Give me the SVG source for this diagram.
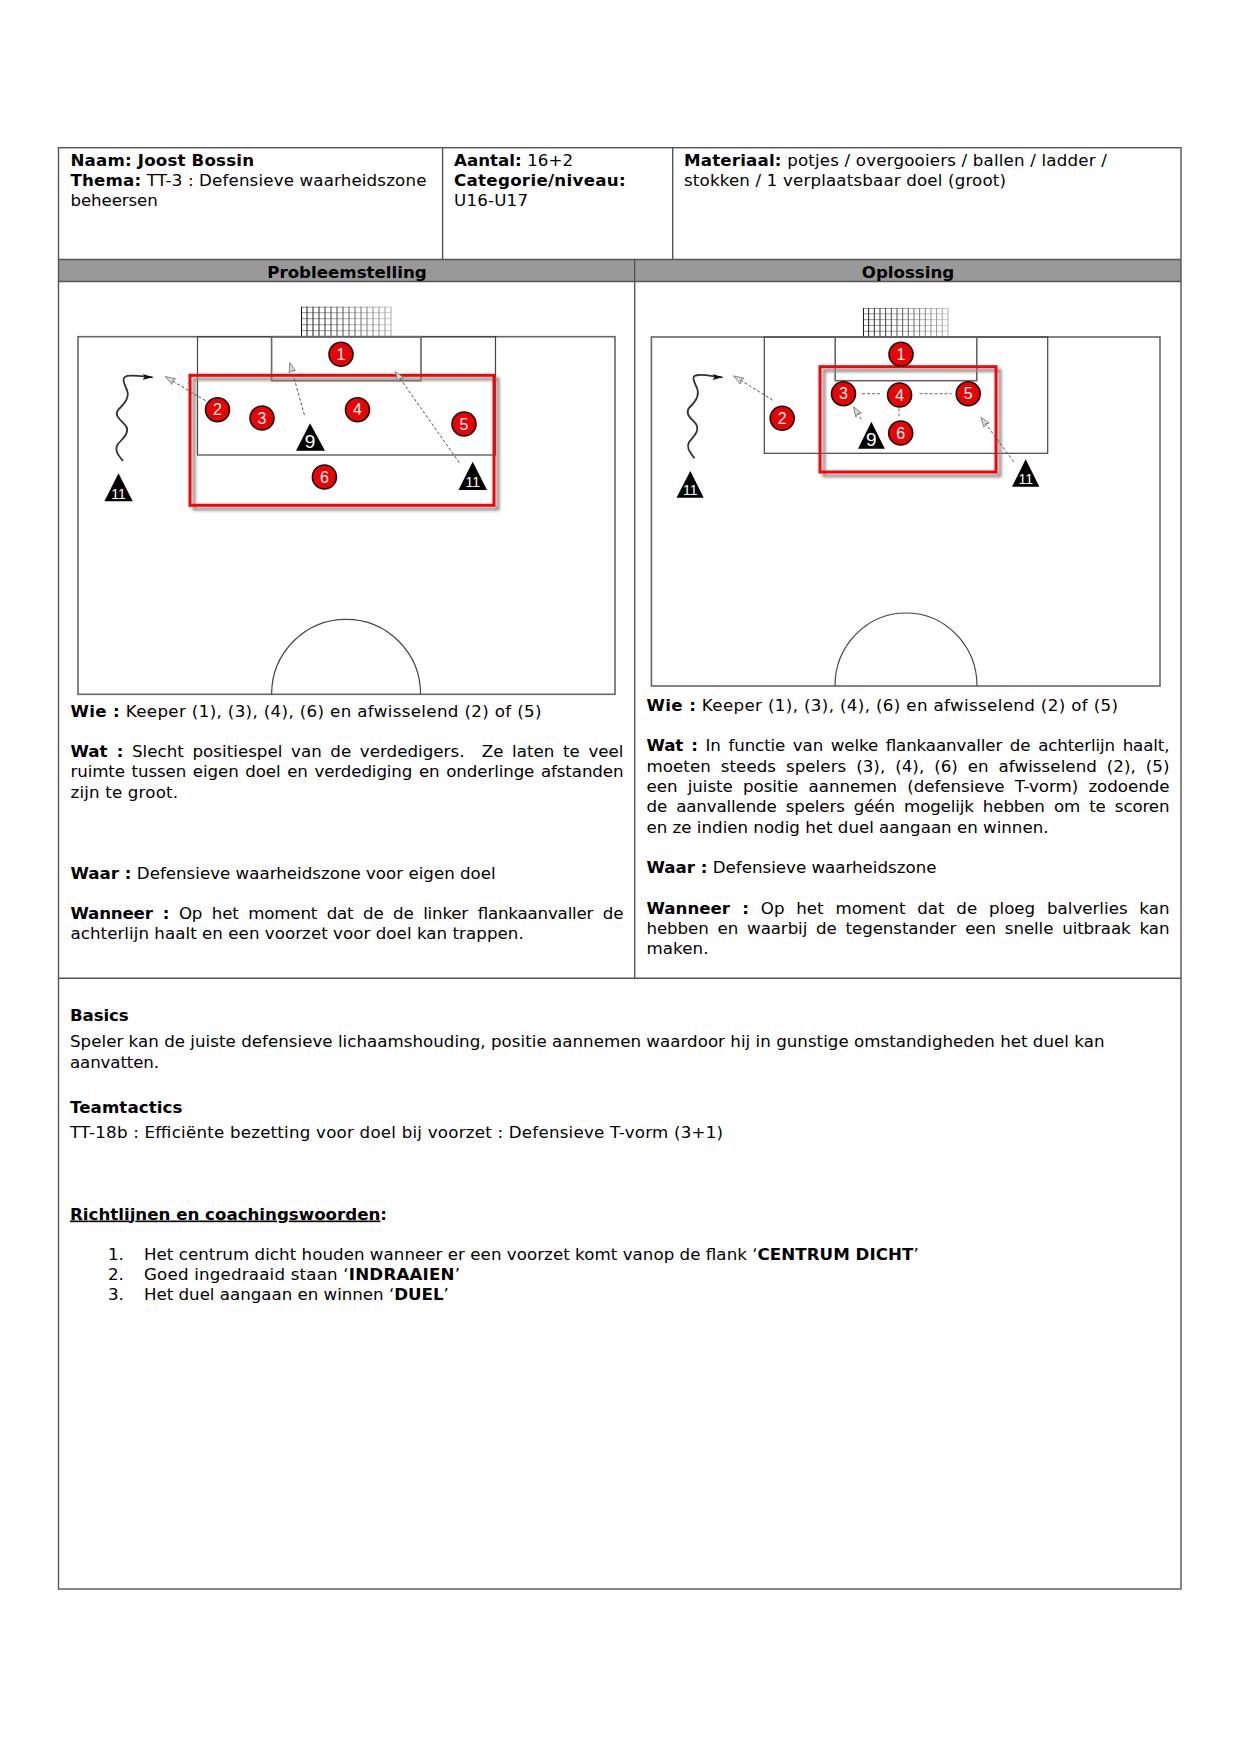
<svg xmlns="http://www.w3.org/2000/svg" width="1241" height="1754" viewBox="0 0 1241 1754">
<style>
text{font-family:"DejaVu Sans",Verdana,sans-serif;font-size:16.67px;fill:#000;white-space:pre}
.b,tspan.b{font-weight:bold}
.tb{fill:none;stroke:#555;stroke-width:1.4}
.p{fill:none;stroke:#666;stroke-width:1.6}
.p2{fill:none;stroke:#444;stroke-width:1.2}
.pl circle{fill:#ee0000;stroke:#111;stroke-width:1.6}
.pl polygon{fill:#000}
.pl text{font-family:"Liberation Sans",Arial,sans-serif;font-size:16px;fill:#fff;text-anchor:middle}
.pl text.s{font-size:14px}
.pl text.n{font-size:19px}
.zone{fill:none;stroke:#f00;stroke-width:3}
.shadow{fill:none;stroke:#888;stroke-width:3;filter:url(#soft)}
.run{fill:none;stroke:#333;stroke-width:1.8;marker-end:url(#ah)}
.pass{fill:none;stroke:#555;stroke-width:1;stroke-dasharray:3 2;marker-end:url(#oh)}
.link{fill:none;stroke:#666;stroke-width:1;stroke-dasharray:3 2}
</style>
<defs>
<filter id="soft" x="-10%" y="-10%" width="120%" height="120%"><feGaussianBlur stdDeviation="1.8"/></filter>
<marker id="ah" markerWidth="12" markerHeight="8" refX="10" refY="4" orient="auto" markerUnits="userSpaceOnUse"><path d="M0 1 L10 4 L0 7 L2 4Z" fill="#111"/></marker>
<marker id="oh" markerWidth="12" markerHeight="10" refX="10" refY="5" orient="auto" markerUnits="userSpaceOnUse"><path d="M0 1.5 L10 5 L0 8.5 L2 5Z" fill="#ddd" stroke="#777" stroke-width=".8"/></marker>
<linearGradient id="fade" gradientUnits="userSpaceOnUse" x1="0" y1="0" x2="90" y2="0"><stop offset="0" stop-color="#111"/><stop offset=".6" stop-color="#666"/><stop offset="1" stop-color="#aaa"/></linearGradient>
<linearGradient id="fade2" gradientUnits="userSpaceOnUse" x1="0" y1="0" x2="90" y2="0"><stop offset="0" stop-color="#888"/><stop offset="1" stop-color="#ccc"/></linearGradient>
<g id="net"><path fill="none" stroke="url(#fade2)" stroke-width="1" d="M0 0.5H90M0 6H90M0 12H90M0 18H90M0 24H90"/><path fill="none" stroke="url(#fade)" stroke-width="1" d="M0.5 0V30M6 0V30M12 0V30M18 0V30M24 0V30M30 0V30M36 0V30M42 0V30M48 0V30M54 0V30M60 0V30M66 0V30M72 0V30M78 0V30M84 0V30M90 0V30"/></g>
</defs>
<rect width="1241" height="1754" fill="#fff"/>

<g id="table">
<rect x="58.5" y="259.5" width="1122.5" height="22" fill="#999"/>
<rect class="tb" x="58.5" y="147.7" width="1122.5" height="1441.3"/>
<path class="tb" d="M442.6 147.7V259.5M672.7 147.7V259.5M58.5 259.5H1181M58.5 281.5H1181M634.7 259.5V978.3M58.5 978.3H1181"/>
</g>

<g id="header-left">
<text x="70.5" y="166" class="b" textLength="183.5">Naam: Joost Bossin</text>
<text x="70.5" y="186" textLength="355.9"><tspan class="b">Thema:</tspan> TT-3 : Defensieve waarheidszone</text>
<text x="70.5" y="206" textLength="87.3">beheersen</text>
</g>
<g id="header-mid">
<text x="454" y="166" textLength="119"><tspan class="b">Aantal:</tspan> 16+2</text>
<text x="454" y="186" class="b" textLength="171.6">Categorie/niveau:</text>
<text x="454" y="206" textLength="74">U16-U17</text>
</g>
<g id="header-right">
<text x="684" y="166" textLength="422.8"><tspan class="b">Materiaal:</tspan> potjes / overgooiers / ballen / ladder /</text>
<text x="684" y="186" textLength="322">stokken / 1 verplaatsbaar doel (groot)</text>
</g>
<g id="col-titles">
<text x="347" y="277.5" text-anchor="middle" class="b">Probleemstelling</text>
<text x="908" y="277.5" text-anchor="middle" class="b">Oplossing</text>
</g>

<g id="pitch-left">
<use href="#net" transform="translate(301 306.7)"/>
<rect class="p" x="78" y="336.7" width="537" height="357.6"/>
<rect class="p2" x="197.5" y="336.7" width="298" height="118.3"/>
<rect class="p" x="271.6" y="336.7" width="149.4" height="44"/>
<path class="p2" d="M271.6 694.3A74.5 75 0 0 1 420.6 694.3"/>
</g>
<g id="zone-left">
<rect class="shadow" x="194" y="379" width="304" height="130"/>
<rect class="zone" x="190" y="375.3" width="304" height="130"/>
</g>
<g id="connectors-left">
<path class="run" d="M123 461C118 455 114 450 118 444C123 438 130 433 126 426C120 419 114 416 118 410C124 404 130 398 127 390C122 380 122 376 130 375.7C138 375 145 377 152.7 377.3"/>
<path class="pass" d="M205.5 400.7L165.5 376.7"/>
<path class="pass" d="M304.4 415L289.8 362.7"/>
<path class="pass" d="M459.3 462.7L395.3 371.7"/>
</g>
<g id="L1" class="pl"><circle cx="341" cy="354.3" r="12"/><text x="341" y="360">1</text></g>
<g id="L2" class="pl"><circle cx="217.5" cy="409.7" r="12"/><text x="217.5" y="415.4">2</text></g>
<g id="L3" class="pl"><circle cx="262" cy="418" r="12"/><text x="262" y="423.7">3</text></g>
<g id="L4" class="pl"><circle cx="357.5" cy="409.7" r="12"/><text x="357.5" y="415.4">4</text></g>
<g id="L5" class="pl"><circle cx="464" cy="424" r="12"/><text x="464" y="429.7">5</text></g>
<g id="L6" class="pl"><circle cx="324.4" cy="477" r="12"/><text x="324.4" y="482.7">6</text></g>
<g id="L9" class="pl"><polygon points="310,423.3 296,450.7 325,450.7"/><text class="n" x="310" y="448">9</text></g>
<g id="L11a" class="pl"><polygon points="118.5,473.3 104.4,501.3 132.7,501.3"/><text class="s" x="118.5" y="498.5">11</text></g>
<g id="L11b" class="pl"><polygon points="472.7,461.7 458.5,490 487,490"/><text class="s" x="472.7" y="487">11</text></g>

<g id="pitch-right">
<use href="#net" transform="translate(863 308) scale(.944 .97)"/>
<rect class="p" x="651.4" y="337" width="508.6" height="349"/>
<rect class="p2" x="764.3" y="337" width="283.4" height="116.3"/>
<rect class="p" x="835.2" y="337" width="141.6" height="43.7"/>
<path class="p2" d="M835 686A71 73 0 0 1 977 686"/>
</g>
<g id="zone-right">
<rect class="shadow" x="824" y="370.5" width="176" height="105.3"/>
<rect class="zone" x="820" y="366.7" width="176" height="105.3"/>
</g>
<g id="connectors-right">
<path class="run" d="M694.4 458.3C690 452 686 448 689 442C694 436 700 431 696 424C690 417 685 414 689 408C695 402 700 396 697 388C692 378 692 375 699 375C707 374.5 715 377 722.6 377.3"/>
<path class="pass" d="M772.6 400L733.7 376"/>
<path class="pass" d="M861.4 419.3L853.5 406.7"/>
<path class="pass" d="M1013.6 461.7L980.9 417.3"/>
<path class="link" d="M862 393.7H881"/>
<path class="link" d="M919.6 393.7H951.6"/>
<path class="link" d="M899 408.3V417.3"/>
</g>
<g id="R1" class="pl"><circle cx="901" cy="354.3" r="12"/><text x="901" y="360">1</text></g>
<g id="R2" class="pl"><circle cx="782.2" cy="418.3" r="12"/><text x="782.2" y="424">2</text></g>
<g id="R3" class="pl"><circle cx="843.5" cy="393.7" r="12"/><text x="843.5" y="399.4">3</text></g>
<g id="R4" class="pl"><circle cx="899.6" cy="395" r="12"/><text x="899.6" y="400.7">4</text></g>
<g id="R5" class="pl"><circle cx="968.2" cy="393.7" r="12"/><text x="968.2" y="399.4">5</text></g>
<g id="R6" class="pl"><circle cx="900.7" cy="433" r="12"/><text x="900.7" y="438.7">6</text></g>
<g id="R9" class="pl"><polygon points="871.4,421.7 858,448.7 884.8,448.7"/><text class="n" x="871.4" y="446">9</text></g>
<g id="R11a" class="pl"><polygon points="690.3,471 676.5,497.7 703.7,497.7"/><text class="s" x="690.3" y="494.5">11</text></g>
<g id="R11b" class="pl"><polygon points="1025.7,459.3 1012,486.7 1039.4,486.7"/><text class="s" x="1025.7" y="483.5">11</text></g>

<g id="text-left">
<text x="70.5" y="717" textLength="471"><tspan class="b">Wie :</tspan> Keeper (1), (3), (4), (6) en afwisselend (2) of (5)</text>
<text x="70.5" y="757" textLength="553" word-spacing="3.3"><tspan class="b">Wat :</tspan> Slecht positiespel van de verdedigers.  Ze laten te veel</text>
<text x="70.5" y="777" textLength="553" word-spacing="1.5">ruimte tussen eigen doel en verdediging en onderlinge afstanden</text>
<text x="70.5" y="797.5" textLength="107.5">zijn te groot.</text>
<text x="70.5" y="878.5" textLength="425.2"><tspan class="b">Waar :</tspan> Defensieve waarheidszone voor eigen doel</text>
<text x="70.5" y="918.5" textLength="553" word-spacing="4.5"><tspan class="b">Wanneer :</tspan> Op het moment dat de de linker flankaanvaller de</text>
<text x="70.5" y="938.7" textLength="453.2">achterlijn haalt en een voorzet voor doel kan trappen.</text>
</g>
<g id="text-right">
<text x="646.5" y="711" textLength="471.5"><tspan class="b">Wie :</tspan> Keeper (1), (3), (4), (6) en afwisselend (2) of (5)</text>
<text x="646.5" y="751.3" textLength="523" word-spacing="2.5"><tspan class="b">Wat :</tspan> In functie van welke flankaanvaller de achterlijn haalt,</text>
<text x="646.5" y="771.7" textLength="523" word-spacing="4.5">moeten steeds spelers (3), (4), (6) en afwisselend (2), (5)</text>
<text x="646.5" y="792" textLength="523" word-spacing="5">een juiste positie aannemen (defensieve T-vorm) zodoende</text>
<text x="646.5" y="812" textLength="523" word-spacing="4">de aanvallende spelers géén mogelijk hebben om te scoren</text>
<text x="646.5" y="832.7" textLength="402">en ze indien nodig het duel aangaan en winnen.</text>
<text x="646.5" y="872.7" textLength="290"><tspan class="b">Waar :</tspan> Defensieve waarheidszone</text>
<text x="646.5" y="914" textLength="523" word-spacing="6.5"><tspan class="b">Wanneer :</tspan> Op het moment dat de ploeg balverlies kan</text>
<text x="646.5" y="933.7" textLength="523" word-spacing="3.7">hebben en waarbij de tegenstander een snelle uitbraak kan</text>
<text x="646.5" y="953.7" textLength="62">maken.</text>
</g>
<g id="text-lower">
<text x="70" y="1020.5" class="b" textLength="58.7">Basics</text>
<text x="70" y="1046.5" textLength="1034.5">Speler kan de juiste defensieve lichaamshouding, positie aannemen waardoor hij in gunstige omstandigheden het duel kan</text>
<text x="70" y="1067.5" textLength="89">aanvatten.</text>
<text x="70" y="1112.5" class="b" textLength="112.4">Teamtactics</text>
<text x="70" y="1138" textLength="653">TT-18b : Efficiënte bezetting voor doel bij voorzet : Defensieve T-vorm (3+1)</text>
<text x="70" y="1219.5" class="b" textLength="317"><tspan text-decoration="underline">Richtlijnen en coachingswoorden</tspan>:</text>
<text x="108" y="1260">1.</text>
<text x="144" y="1260" textLength="774.7">Het centrum dicht houden wanneer er een voorzet komt vanop de flank ‘<tspan class="b">CENTRUM DICHT</tspan>’</text>
<text x="108" y="1280">2.</text>
<text x="144" y="1280" textLength="316">Goed ingedraaid staan ‘<tspan class="b">INDRAAIEN</tspan>’</text>
<text x="108" y="1300">3.</text>
<text x="144" y="1300" textLength="304.8">Het duel aangaan en winnen ‘<tspan class="b">DUEL</tspan>’</text>
</g>
</svg>
